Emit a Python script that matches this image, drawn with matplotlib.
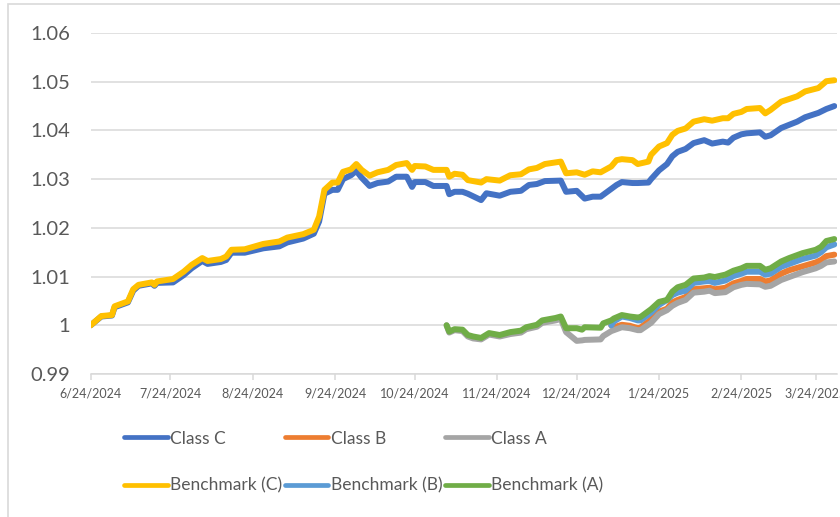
import matplotlib
matplotlib.use("Agg")
import matplotlib.pyplot as plt
from matplotlib.lines import Line2D
from matplotlib.patches import Rectangle
import pandas as pd
import numpy as np

plt.rcParams['font.family'] = ['Lato', 'DejaVu Sans']

# ---------------- data ----------------
upper_dates = [
    "2024-06-24", "2024-06-28", "2024-07-02", "2024-07-03", "2024-07-08", "2024-07-10",
    "2024-07-12", "2024-07-17", "2024-07-18", "2024-07-19", "2024-07-25", "2024-07-29",
    "2024-08-01", "2024-08-05", "2024-08-07", "2024-08-12", "2024-08-14", "2024-08-16",
    "2024-08-21", "2024-08-28", "2024-09-03", "2024-09-06", "2024-09-12", "2024-09-16",
    "2024-09-18", "2024-09-20", "2024-09-23", "2024-09-25", "2024-09-27", "2024-09-30",
    "2024-10-02", "2024-10-04", "2024-10-07", "2024-10-10", "2024-10-14", "2024-10-17",
    "2024-10-21", "2024-10-23", "2024-10-24", "2024-10-28", "2024-10-31", "2024-11-05",
    "2024-11-06", "2024-11-08", "2024-11-11", "2024-11-13", "2024-11-18", "2024-11-20",
    "2024-11-25", "2024-11-29", "2024-12-03", "2024-12-06", "2024-12-09", "2024-12-12",
    "2024-12-18", "2024-12-20", "2024-12-24", "2024-12-27", "2024-12-30", "2025-01-02",
    "2025-01-06", "2025-01-08", "2025-01-10", "2025-01-14", "2025-01-16", "2025-01-20",
    "2025-01-21", "2025-01-24", "2025-01-27", "2025-01-29", "2025-01-31", "2025-02-03",
    "2025-02-06", "2025-02-10", "2025-02-13", "2025-02-17", "2025-02-19", "2025-02-21",
    "2025-02-24", "2025-02-26", "2025-03-03", "2025-03-05", "2025-03-07", "2025-03-11",
    "2025-03-17", "2025-03-20", "2025-03-25", "2025-03-28", "2025-03-31",
]

class_c = [
    1.0000, 1.0018, 1.0020, 1.0037, 1.0047, 1.0071, 1.0081, 1.0086, 1.0081, 1.0087,
    1.0088, 1.0103, 1.0117, 1.0132, 1.0126, 1.0130, 1.0134, 1.0149, 1.0149, 1.0158,
    1.0162, 1.0170, 1.0178, 1.0188, 1.0213, 1.0270, 1.0278, 1.0278, 1.0300, 1.0308,
    1.0317, 1.0303, 1.0286, 1.0292, 1.0295, 1.0305, 1.0305, 1.0284, 1.0294, 1.0294,
    1.0286, 1.0286, 1.0269, 1.0274, 1.0274, 1.0270, 1.0257, 1.0271, 1.0266, 1.0274,
    1.0276, 1.0288, 1.0290, 1.0296, 1.0297, 1.0274, 1.0276, 1.0260, 1.0264, 1.0264,
    1.0280, 1.0288, 1.0294, 1.0292, 1.0292, 1.0293, 1.0300, 1.0318, 1.0331, 1.0347,
    1.0356, 1.0362, 1.0374, 1.0380, 1.0373, 1.0377, 1.0375, 1.0385, 1.0392, 1.0394,
    1.0396, 1.0387, 1.0390, 1.0405, 1.0418, 1.0427, 1.0436, 1.0444, 1.0450,
]

bench_c = [
    1.0000, 1.0019, 1.0021, 1.0039, 1.0049, 1.0074, 1.0083, 1.0088, 1.0083, 1.0090,
    1.0095, 1.0110, 1.0124, 1.0138, 1.0132, 1.0136, 1.0141, 1.0155, 1.0156, 1.0167,
    1.0172, 1.0180, 1.0187, 1.0196, 1.0223, 1.0278, 1.0293, 1.0293, 1.0315, 1.0320,
    1.0331, 1.0319, 1.0307, 1.0314, 1.0319, 1.0329, 1.0333, 1.0319, 1.0327, 1.0326,
    1.0319, 1.0319, 1.0305, 1.0311, 1.0309, 1.0298, 1.0293, 1.0300, 1.0297, 1.0308,
    1.0310, 1.0320, 1.0323, 1.0331, 1.0336, 1.0312, 1.0314, 1.0309, 1.0316, 1.0314,
    1.0326, 1.0339, 1.0341, 1.0339, 1.0331, 1.0336, 1.0350, 1.0367, 1.0374, 1.0391,
    1.0399, 1.0404, 1.0418, 1.0423, 1.0420, 1.0425, 1.0425, 1.0434, 1.0438, 1.0444,
    1.0446, 1.0435, 1.0442, 1.0459, 1.0470, 1.0480, 1.0487, 1.0501, 1.0503,
]

lower_dates = [
    "2024-11-05", "2024-11-06", "2024-11-08", "2024-11-11", "2024-11-13", "2024-11-15",
    "2024-11-18", "2024-11-21", "2024-11-25", "2024-11-29", "2024-12-03", "2024-12-05",
    "2024-12-09", "2024-12-11", "2024-12-16", "2024-12-18", "2024-12-20", "2024-12-24",
    "2024-12-26", "2024-12-27", "2025-01-02", "2025-01-03", "2025-01-06", "2025-01-07",
    "2025-01-10", "2025-01-13", "2025-01-16", "2025-01-17", "2025-01-21", "2025-01-24",
    "2025-01-27", "2025-01-29", "2025-01-31", "2025-02-03", "2025-02-06", "2025-02-10",
    "2025-02-12", "2025-02-14", "2025-02-18", "2025-02-21", "2025-02-24", "2025-02-26",
    "2025-03-03", "2025-03-05", "2025-03-07", "2025-03-11", "2025-03-14", "2025-03-19",
    "2025-03-24", "2025-03-26", "2025-03-28", "2025-03-31",
]

bench_a = [
    1.0000, 0.9987, 0.9992, 0.9991, 0.9980, 0.9977, 0.9974, 0.9984, 0.9980, 0.9986,
    0.9989, 0.9996, 1.0001, 1.0010, 1.0015, 1.0018, 0.9994, 0.9994, 0.9991, 0.9996,
    0.9995, 1.0004, 1.0010, 1.0014, 1.0021, 1.0018, 1.0016, 1.0017, 1.0033, 1.0048,
    1.0052, 1.0069, 1.0078, 1.0083, 1.0096, 1.0098, 1.0101, 1.0099, 1.0104, 1.0112,
    1.0117, 1.0122, 1.0122, 1.0114, 1.0117, 1.0131, 1.0138, 1.0148, 1.0155, 1.0161,
    1.0173, 1.0177,
]

class_a = [
    1.0000, 0.9985, 0.9990, 0.9988, 0.9977, 0.9973, 0.9971, 0.9981, 0.9977, 0.9982,
    0.9985, 0.9992, 0.9997, 1.0005, 1.0010, 1.0013, 0.9986, 0.9968, 0.9969, 0.9970,
    0.9971, 0.9978, 0.9988, 0.9990, 0.9996, 0.9994, 0.9990, 0.9990, 1.0005, 1.0023,
    1.0031, 1.0040, 1.0046, 1.0052, 1.0067, 1.0069, 1.0071, 1.0066, 1.0068, 1.0078,
    1.0083, 1.0085, 1.0084, 1.0079, 1.0081, 1.0093, 1.0099, 1.0109, 1.0117, 1.0122,
    1.0129, 1.0131,
]

# Class B and Benchmark (B) begin on 2025-01-06 (index 22 of lower_dates)
class_b = [None] * 22 + [
    1.0000, 0.9996, 1.0001, 0.9999, 0.9994, 0.9995, 1.0012, 1.0028, 1.0034, 1.0047,
    1.0052, 1.0058, 1.0074, 1.0076, 1.0077, 1.0074, 1.0077, 1.0086, 1.0091, 1.0095,
    1.0095, 1.0090, 1.0092, 1.0106, 1.0113, 1.0121, 1.0129, 1.0134, 1.0142, 1.0145,
]

bench_b = [None] * 22 + [
    1.0000, 1.0008, 1.0018, 1.0015, 1.0010, 1.0010, 1.0026, 1.0042, 1.0052, 1.0062,
    1.0067, 1.0071, 1.0087, 1.0090, 1.0091, 1.0087, 1.0092, 1.0101, 1.0106, 1.0110,
    1.0110, 1.0104, 1.0106, 1.0120, 1.0126, 1.0136, 1.0143, 1.0150, 1.0160, 1.0166,
]

tick_dates = [
    "2024-06-24", "2024-07-24", "2024-08-24", "2024-09-24", "2024-10-24",
    "2024-11-24", "2024-12-24", "2025-01-24", "2025-02-24", "2025-03-24",
]
y_ticks = [0.99, 1.00, 1.01, 1.02, 1.03, 1.04, 1.05, 1.06]
y_tick_labels = ["0.99", "1", "1.01", "1.02", "1.03", "1.04", "1.05", "1.06"]

# ---------------- figure ----------------
fig = plt.figure(figsize=(8.4, 5.17), dpi=100)
ax = fig.add_axes([0.108, 0.2766, 0.8884, 0.6596])

ud = pd.to_datetime(upper_dates)
ld = pd.to_datetime(lower_dates)

def arr(v):
    return np.array([np.nan if x is None else x for x in v], dtype=float)

lw = 4.3
series = [
    ("Class C", ud, class_c, "#4472C4"),
    ("Class B", ld, class_b, "#ED7D31"),
    ("Class A", ld, class_a, "#A5A5A5"),
    ("Benchmark (C)", ud, bench_c, "#FFC000"),
    ("Benchmark (B)", ld, bench_b, "#5B9BD5"),
    ("Benchmark (A)", ld, bench_a, "#70AD47"),
]
handles = {}
for i, (name, d, v, c) in enumerate(series):
    ln, = ax.plot(d, arr(v), color=c, lw=lw, solid_joinstyle="round",
                  solid_capstyle="round", label=name, zorder=3 + i)
    handles[name] = ln

ax.set_ylim(0.99, 1.06)
ax.set_xlim(pd.Timestamp("2024-06-24"), pd.Timestamp("2025-04-01"))
ax.set_yticks(y_ticks)
ax.set_yticklabels(y_tick_labels)
ax.yaxis.grid(True, color="#D9D9D9", lw=1.1)
ax.set_axisbelow(True)

td = pd.to_datetime(tick_dates)
ax.set_xticks(td)
ax.set_xticklabels([f"{t.month}/{t.day}/{t.year}" for t in td])

for s in ["top", "right", "left"]:
    ax.spines[s].set_visible(False)
ax.spines["bottom"].set_color("#D9D9D9")
ax.spines["bottom"].set_linewidth(1.1)
ax.tick_params(axis="y", length=0, labelsize=14.5, labelcolor="#595959", pad=15)
ax.tick_params(axis="x", length=4, width=1.1, color="#D9D9D9", labelsize=9,
               labelcolor="#595959", pad=6)

# legend
order = ["Class C", "Benchmark (C)", "Class B", "Benchmark (B)", "Class A", "Benchmark (A)"]
leg = fig.legend([Line2D([], [], color=handles[n].get_color(), lw=3.4, solid_capstyle="round")
                  for n in order], order,
                 loc="center", bbox_to_anchor=(0.433, 0.1060), ncol=3, frameon=False,
                 fontsize=12.5, handlelength=2.5, handletextpad=0.15, columnspacing=0.15,
                 labelspacing=1.8, borderpad=0)
for t in leg.get_texts():
    t.set_color("#595959")

# chart border
fig.patches.append(Rectangle((8 / 840, -0.05), 1.2, 1 - 4 / 517 + 0.05,
                             transform=fig.transFigure, fill=False,
                             edgecolor="#D9D9D9", lw=1.2))

fig.savefig("out.png", dpi=100)
